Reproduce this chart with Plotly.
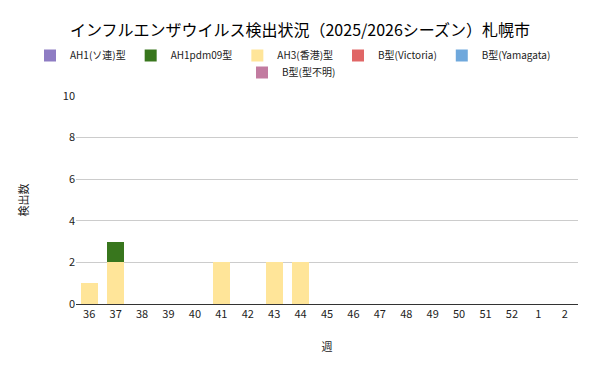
import plotly.graph_objects as go

weeks = ["36","37","38","39","40","41","42","43","44","45","46","47","48","49","50","51","52","1","2"]
ah1_soren = [0]*19
ah1pdm09 = [0,1,0,0,0,0,0,0,0,0,0,0,0,0,0,0,0,0,0]
ah3 = [1,2,0,0,0,2,0,2,2,0,0,0,0,0,0,0,0,0,0]
b_victoria = [0]*19
b_yamagata = [0]*19
b_unknown = [0]*19

series = [
    ("AH1(ソ連)型", ah1_soren, "#8e7cc3", "legend"),
    ("AH1pdm09型", ah1pdm09, "#38761d", "legend"),
    ("AH3(香港)型", ah3, "#ffe599", "legend"),
    ("B型(Victoria)", b_victoria, "#e06666", "legend"),
    ("B型(Yamagata)", b_yamagata, "#6fa8dc", "legend"),
    ("B型(型不明)", b_unknown, "#c27ba0", "legend2"),
]

font = "Noto Sans CJK JP, DejaVu Sans, sans-serif"
fig = go.Figure()
order = [2, 0, 1, 3, 4, 5]
for i in order:
    name, vals, color, lg = series[i]
    fig.add_trace(go.Bar(x=weeks, y=vals, name=name, marker=dict(color=color, line=dict(width=0)),
                         legendrank=i+1, legend=lg))

W, H = 593, 363
L, R, T, B = 68, 23, 88, 67
PH = H - T - B
PW = W - L - R

leg_common = dict(orientation="h", font=dict(size=10, color="#222222"), itemwidth=30,
                  traceorder="normal", tracegroupgap=0, xanchor="left", yanchor="top",
                  bgcolor="rgba(0,0,0,0)")

fig.update_layout(
    barmode="stack",
    bargap=0.35,
    width=W, height=H,
    margin=dict(l=L, r=R, t=T, b=B, autoexpand=False),
    paper_bgcolor="white", plot_bgcolor="white",
    font=dict(family=font, size=11, color="#222222"),
    title=dict(text="インフルエンザウイルス検出状況（2025/2026シーズン）札幌市",
               x=292/W, xanchor="center", xref="container", y=1-22/H, yanchor="middle",
               font=dict(size=16, color="#000000", family=font)),
    legend=dict(**leg_common, x=(22-L)/PW, y=1+(T-33)/PH),
    legend2=dict(**leg_common, x=(234-L)/PW, y=1+(T-50)/PH),
    showlegend=True,
)
fig.update_xaxes(type="category", showline=True, linecolor="#333333", linewidth=1,
                 ticks="", tickfont=dict(size=11), automargin=False,
                 title=dict(text="週", font=dict(size=11), standoff=23))
fig.update_yaxes(range=[0, 10], dtick=2, showgrid=True, gridcolor="#cccccc",
                 zeroline=False, ticks="", tickfont=dict(size=11), automargin=False,
                 title=dict(text="検出数", font=dict(size=11), standoff=31))
fig.write_html("out.html")
